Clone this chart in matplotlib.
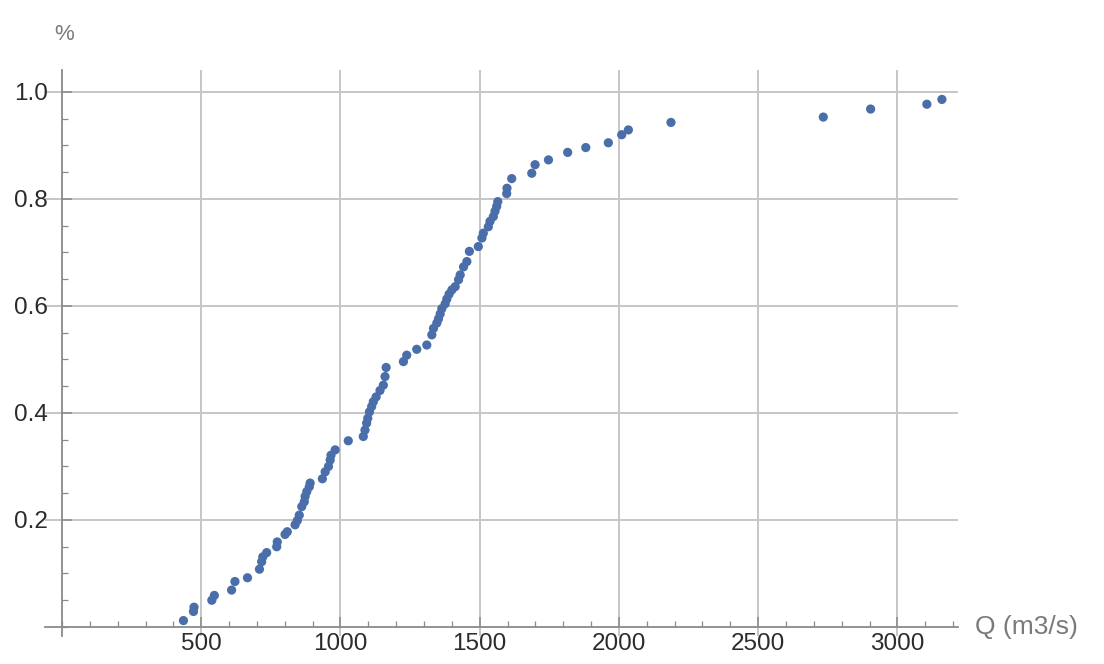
import matplotlib.pyplot as plt
from matplotlib.ticker import MultipleLocator

# 流量 Q (m3/s) 与经验累积频率
q = [436, 472, 474, 538, 547, 609, 621, 666, 709, 717, 721, 735, 771, 773, 801,
     809, 837, 845, 852, 861, 870, 873, 879, 888, 891, 935, 945, 957, 963, 966,
     981, 1028, 1082, 1088, 1094, 1098, 1104, 1112, 1118, 1128, 1142, 1154, 1160,
     1164, 1226, 1238, 1274, 1310, 1328, 1334, 1346, 1352, 1358, 1364, 1376, 1382,
     1390, 1400, 1412, 1424, 1430, 1442, 1454, 1463, 1495, 1508, 1513, 1531, 1537,
     1549, 1555, 1561, 1565, 1597, 1598, 1615, 1687, 1699, 1747, 1816, 1881, 1962,
     2010, 2034, 2187, 2734, 2904, 3106, 3160]
p = [0.012, 0.029, 0.037, 0.050, 0.059, 0.069, 0.085, 0.092, 0.108, 0.122, 0.131,
     0.139, 0.150, 0.159, 0.173, 0.178, 0.191, 0.199, 0.209, 0.225, 0.234, 0.244,
     0.253, 0.262, 0.269, 0.277, 0.290, 0.300, 0.312, 0.321, 0.331, 0.348, 0.356,
     0.368, 0.381, 0.390, 0.402, 0.412, 0.421, 0.430, 0.442, 0.452, 0.468, 0.485,
     0.496, 0.508, 0.519, 0.527, 0.546, 0.558, 0.568, 0.576, 0.585, 0.595, 0.604,
     0.613, 0.622, 0.630, 0.636, 0.649, 0.658, 0.673, 0.683, 0.702, 0.711, 0.727,
     0.736, 0.748, 0.758, 0.767, 0.777, 0.786, 0.795, 0.810, 0.820, 0.838, 0.848,
     0.864, 0.873, 0.887, 0.896, 0.905, 0.920, 0.929, 0.943, 0.953, 0.968, 0.977,
     0.986]

x_ticks = [500, 1000, 1500, 2000, 2500, 3000]
y_ticks = [0.2, 0.4, 0.6, 0.8, 1.0]

plt.rcParams['font.family'] = ['Liberation Sans', 'DejaVu Sans']

fig = plt.figure(figsize=(11.04, 6.64), dpi=100)
ax = fig.add_axes([0.0408, 0.0422, 0.827, 0.8524])

axis_col = '#8a8a8a'
grid_col = '#c6c6c6'

ax.scatter(q, p, s=44, color='#4a6ea9', edgecolors='none', zorder=3)

ax.set_xlim(-61, 3218)
ax.set_ylim(-0.0168, 1.041)

# 坐标轴交于原点
for side in ['top', 'right']:
    ax.spines[side].set_visible(False)
ax.spines['left'].set_position(('data', 0))
ax.spines['bottom'].set_position(('data', 0))
for side in ['left', 'bottom']:
    ax.spines[side].set_color(axis_col)
    ax.spines[side].set_linewidth(1.3)

ax.set_xticks(x_ticks)
ax.set_yticks(y_ticks)
ax.set_yticklabels([f'{v:.1f}' for v in y_ticks])
ax.xaxis.set_minor_locator(MultipleLocator(100))
ax.yaxis.set_minor_locator(MultipleLocator(0.05))
ax.tick_params(which='major', direction='in', length=7, width=1.1,
               color=axis_col, labelsize=17.5, labelcolor='#2b2b2b')
ax.tick_params(axis='y', which='major', pad=10)
ax.tick_params(axis='x', which='major', pad=4)
ax.tick_params(which='minor', direction='in', length=4, width=0.9, color=axis_col)

ax.grid(True, which='major', color=grid_col, linewidth=1.4, zorder=0)
ax.set_axisbelow(True)

fig.text(64 / 1104, 1 - 34 / 664, '%', ha='center', va='center',
         fontsize=16, color='#7a7a7a')
fig.text(975 / 1104, 1 - 627 / 664, 'Q (m3/s)', ha='left', va='center',
         fontsize=19, color='#7a7a7a')

fig.savefig('out.png', dpi=100)
